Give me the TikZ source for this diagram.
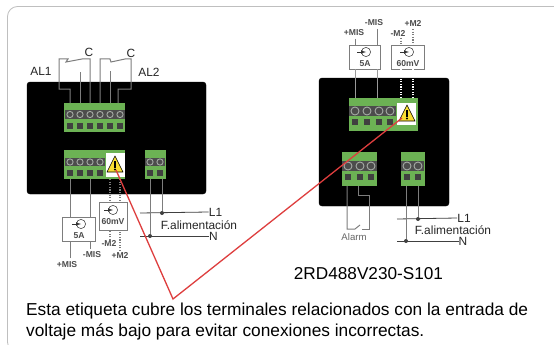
\documentclass[tikz,border=0pt]{standalone}
\usepackage{fontspec}
\setmainfont{Liberation Sans}
\usepackage{tikz}
\usetikzlibrary{arrows}
\definecolor{termgreen}{RGB}{108,178,84}
\definecolor{wiregray}{RGB}{125,125,125}
\definecolor{warnred}{RGB}{222,62,62}
\definecolor{warnyellow}{RGB}{250,222,50}
\definecolor{holegray}{RGB}{165,170,165}
\tikzset{
    x=1pt, y=-1pt,
    device/.style={draw=black, fill=black, rounded corners=3pt},
    terminal/.style={fill=termgreen},
    wire/.style={draw=wiregray, line width=1pt},
    dotwire/.style={draw=wiregray, line width=1.1pt, dash pattern=on 1.2pt off 1.4pt},
    mainwire/.style={draw=black!75, line width=0.8pt},
    meterbox/.style={draw=wiregray, fill=white, line width=0.7pt, inner sep=0pt},
    metertext/.style={font=\fontsize{8.6}{10}\selectfont\bfseries, text=black!70, inner sep=0pt},
    labeltext/.style={font=\fontsize{11.9}{14}\selectfont, text=black!85, inner sep=0pt},
    junction/.style={circle, fill=black!75, inner sep=0pt, minimum size=4pt}
}
\newcommand{\screws}[3]{%
    \foreach \sx in {#1} {
        \fill[black!70] (\sx-#3-1.6,#2-#3-1) rectangle (\sx+#3+1.6,#2+#3+1);
        \draw[holegray, fill=black!70, line width=0.9pt] (\sx,#2) circle (#3);
        \fill[black!75] (\sx-2.8,#2+8) rectangle (\sx+2.8,#2+14);
    }
}
\newcommand{\warning}[2]{%
    \draw[black, fill=warnyellow, line width=0.6pt, line join=round] (#1,#2-9) -- (#1+8,#2+7) -- (#1-8,#2+7) -- cycle;
    \fill[black] (#1-1,#2-4) rectangle (#1+1,#2+2.5);
    \fill[black] (#1,#2+4.5) circle (1.1);
}
\newcommand{\metersym}[2]{%
    \draw[black!70, line width=0.6pt] (#1+2,#2) circle (4.6);
    \draw[black!80, line width=0.7pt, -latex] (#1-7,#2) -- (#1+2,#2);
}
\begin{document}
\begin{tikzpicture}
    \useasboundingbox (0,0) rectangle (554,345);
    \clip (0,0) rectangle (554,345);
    \draw[black!25, fill=white, line width=0.8pt, rounded corners=10pt] (7.5,6.5) rectangle (580,352);

    % left device
    \node[device, minimum width=179pt, minimum height=112pt, inner sep=0pt] (devA) at (116.5,138) {};
    \fill[terminal] (64,103) rectangle (125,132);
    \fill[terminal] (64,150) rectangle (125,179);
    \fill[terminal] (145,150) rectangle (166,179);
    \screws{70,80,90,100,110,120}{114.5}{3.1}
    \screws{70,80,90,100}{162}{3.1}
    \screws{150,160}{162}{3.1}
    \node[fill=white, minimum width=19pt, minimum height=24pt, inner sep=0pt] (warnA) at (115,165) {};
    \warning{115}{165}

    % right device
    \node[device, minimum width=130pt, minimum height=128pt, inner sep=0pt] (devB) at (384,142) {};
    \fill[terminal] (349,98) rectangle (418,131);
    \fill[terminal] (342,152) rectangle (377,186);
    \fill[terminal] (401,152) rectangle (425,186);
    \screws{355,367,379,390}{111}{4}
    \screws{348,360,371}{166}{4}
    \screws{407,418}{166}{4}
    \node[fill=white, minimum width=19pt, minimum height=22pt, inner sep=0pt] (warnB) at (406.5,114) {};
    \warning{407}{114}

    % relays on the left
    \coordinate (ra1) at (70,103);
    \coordinate (ra2) at (80,103);
    \coordinate (ra3) at (90,103);
    \coordinate (rb1) at (100,103);
    \coordinate (rb2) at (110,103);
    \coordinate (rb3) at (118,103);
    \draw[wire] (ra1) -- (70,89) -- (59,89) -- (59,59) -- (68,59) -- (66,62) -- (82,59) -- (90,59) -- (ra3);
    \draw[wire] (ra2) -- (80,72);
    \draw[wire] (rb1) -- (100,59) -- (110,59) -- (111,62) -- (125,59) -- (131,59) -- (131,89) -- (118,89) -- (rb3);
    \draw[wire] (rb2) -- (110,71);

    \node[labeltext] (nodeC1) at (89,52) {C};
    \node[labeltext] (nodeC2) at (131,53) {C};
    \node[labeltext] (nodeAL1) at (41,71) {AL1};
    \node[labeltext] (nodeAL2) at (149,72) {AL2};

    % meter boxes on the left
    \node[meterbox, minimum width=33pt, minimum height=24pt] (boxA) at (78.5,229) {};
    \node[meterbox, minimum width=28pt, minimum height=28pt] (boxB) at (113,216) {};
    \metersym{79}{224}
    \metersym{111}{210}
    \node[metertext] (textA) at (79,236) {5A};
    \node[metertext] (textB) at (113,222) {60mV};
    \coordinate (ta1) at (70,179);
    \coordinate (ta2) at (90,179);
    \coordinate (ta3) at (110,179);
    \coordinate (ta4) at (120,179);
    \coordinate (ea1) at (70,258);
    \coordinate (ea2) at (90,249);
    \coordinate (ea3) at (110,240);
    \coordinate (ea4) at (120,251);
    \draw[wire] (ta1) -- (ta1 |- boxA.north);
    \draw[wire] (ta2) -- (ta2 |- boxA.north);
    \draw[wire] (ea1) -- (ea1 |- boxA.south);
    \draw[wire] (ea2) -- (ea2 |- boxA.south);
    \draw[dotwire] (ta3) -- (ta3 |- boxB.north);
    \draw[dotwire] (ta4) -- (ta4 |- boxB.north);
    \draw[dotwire] (ea3) -- (ea3 |- boxB.south);
    \draw[dotwire] (ea4) -- (ea4 |- boxB.south);
    \node[metertext] (misA) at (67,265) {+MIS};
    \node[metertext] (misB) at (92,255) {-MIS};
    \node[metertext] (mtwoA) at (109,243) {-M2};
    \node[metertext] (mtwoB) at (120,255) {+M2};

    % supply on the left
    \node[labeltext] (lineA) at (215.5,212) {L1};
    \node[labeltext] (neutA) at (213.5,236) {N};
    \node[labeltext] (supA) at (199,225) {F.alimentación};
    \node[junction] (dotL) at (162,213) {};
    \node[junction] (dotN) at (150,236) {};
    \coordinate (la) at (140,213);
    \coordinate (na) at (140,236);
    \draw[mainwire] (la) -- (lineA.west);
    \draw[mainwire] (na) -- (neutA.west);
    \draw[wire] (162,179) -- (dotL);
    \draw[wire] (150,179) -- (dotN);

    % meter boxes on the right
    \node[meterbox, minimum width=31pt, minimum height=24pt] (boxC) at (364.5,57) {};
    \node[meterbox, minimum width=33pt, minimum height=24pt] (boxD) at (407.5,57) {};
    \metersym{364}{52}
    \metersym{407}{52}
    \node[metertext] (textC) at (365,64) {5A};
    \node[metertext] (textD) at (408,64) {60mV};
    \coordinate (tc1) at (355,98);
    \coordinate (tc2) at (377,98);
    \coordinate (tc3) at (401,98);
    \coordinate (tc4) at (413,98);
    \coordinate (ec1) at (355,39);
    \coordinate (ec2) at (377,29);
    \coordinate (ec3) at (401,38);
    \coordinate (ec4) at (413,29);
    \draw[black!40, line width=1pt] (tc1) -- (tc1 |- boxC.south);
    \draw[black!40, line width=1pt] (tc2) -- (tc2 |- boxC.south);
    \draw[wire] (ec1) -- (ec1 |- boxC.north);
    \draw[wire] (ec2) -- (ec2 |- boxC.north);
    \draw[dotwire, draw=white] (tc3) -- (tc3 |- boxD.south);
    \draw[dotwire, draw=white] (tc4) -- (tc4 |- boxD.south);
    \draw[dotwire] (ec3) -- (ec3 |- boxD.north);
    \draw[dotwire] (ec4) -- (ec4 |- boxD.north);
    \node[metertext] (misC) at (354,33) {+MIS};
    \node[metertext] (misD) at (374,23) {-MIS};
    \node[metertext] (mtwoC) at (398,33) {-M2};
    \node[metertext] (mtwoD) at (413,23) {+M2};

    % alarm and supply on the right
    \coordinate (al1) at (347,186);
    \coordinate (al2) at (358,186);
    \draw[wire] (al1) -- (347,229) -- (355,229) -- (360,225);
    \draw[wire] (362,229) -- (369,229) -- (369,195) -- (358,195) -- (al2);
    \node[font=\fontsize{9.6}{11}\selectfont, text=black!60, inner sep=0pt] (alarm) at (354,237) {Alarm};
    \node[labeltext] (lineB) at (464,218) {L1};
    \node[labeltext] (neutB) at (463,241) {N};
    \node[labeltext] (supB) at (453,230) {F.alimentación};
    \node[junction] (dotM) at (418,219) {};
    \node[junction] (dotO) at (406,241) {};
    \coordinate (lb) at (397,219);
    \coordinate (nb) at (397,241);
    \draw[mainwire] (lb) -- (lineB.west);
    \draw[mainwire] (nb) -- (neutB.west);
    \draw[wire] (418,186) -- (dotM);
    \draw[wire] (406,186) -- (dotO);

    % red pointer
    \coordinate (redA) at (116,170);
    \coordinate (redB) at (402,118);
    \coordinate (redTip) at (173,299);
    \draw[warnred, line width=1.3pt] (redA) -- (redTip) -- (redB);

    \node[font=\fontsize{17.2}{20}\selectfont, inner sep=0pt] (model) at (368.5,274) {2RD488V230-S101};
    \node[font=\fontsize{17.3}{20}\selectfont, anchor=base west, inner sep=0pt] (noteA) at (26,315) {Esta etiqueta cubre los terminales relacionados con la entrada de};
    \node[font=\fontsize{17.3}{20}\selectfont, anchor=base west, inner sep=0pt] (noteB) at (26,336) {voltaje más bajo para evitar conexiones incorrectas.};
\end{tikzpicture}
\end{document}
